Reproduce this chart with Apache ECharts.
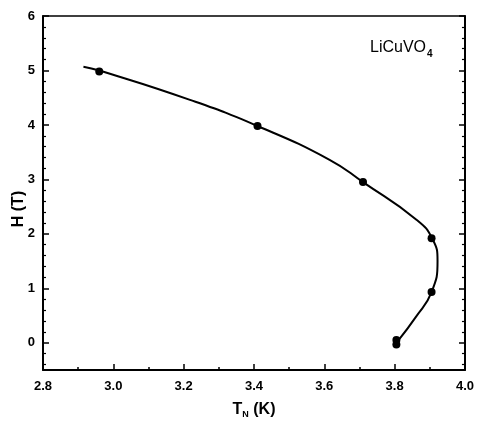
<!DOCTYPE html>
<html>
<head>
<meta charset="utf-8">
<script src="https://cdn.jsdelivr.net/npm/echarts@6/dist/echarts.min.js"></script>
<style>html,body{margin:0;padding:0;background:#fff}#c{width:477px;height:421px}</style>
</head>
<body>
<div id="c"></div>
<script>
// Tick values
const xTicks = [2.8, 3.0, 3.2, 3.4, 3.6, 3.8, 4.0];
const xMinor = [2.9, 3.1, 3.3, 3.5, 3.7, 3.9];
const yTicks = [0, 1, 2, 3, 4, 5, 6];
const yMinor = [-0.4, -0.2, 0.2, 0.4, 0.6, 0.8, 1.2, 1.4, 1.6, 1.8, 2.2, 2.4, 2.6, 2.8,
                3.2, 3.4, 3.6, 3.8, 4.2, 4.4, 4.6, 4.8, 5.2, 5.4, 5.6, 5.8];
// Guide curve
const curveT = [2.915, 2.96, 3.218, 3.41, 3.615, 3.71, 3.862, 3.908, 3.922, 3.905, 3.86, 3.81];
const curveH = [5.07, 5.0, 4.46, 3.98, 3.36, 2.95, 2.26, 1.9, 1.5, 0.93, 0.47, 0.04];
// Measured points
const pointT = [2.96, 3.41, 3.71, 3.905, 3.905, 3.805, 3.805];
const pointH = [4.98, 3.98, 2.95, 1.92, 0.93, 0.05, -0.03];

const FONT = 'Liberation Sans';
const black = '#000';
const chart = echarts.init(document.getElementById('c'), null, {renderer: 'canvas'});

function xAx(extra) {
  return Object.assign({
    type: 'value', min: 2.8, max: 4.0, position: 'bottom',
    splitLine: {show: false},
    axisLine: {show: false, onZero: false, lineStyle: {color: black, width: 2}},
    axisTick: {show: false},
    axisLabel: {show: false}
  }, extra);
}
function yAx(extra) {
  return Object.assign({
    type: 'value', min: -0.5, max: 6, position: 'left',
    splitLine: {show: false},
    axisLine: {show: false, onZero: false, lineStyle: {color: black, width: 2}},
    axisTick: {show: false},
    axisLabel: {show: false}
  }, extra);
}

chart.setOption({
  animation: false,
  backgroundColor: '#fff',
  textStyle: {fontFamily: FONT},
  grid: {left: 43, right: 11, top: 16, bottom: 51},
  xAxis: [
    xAx({
      axisLine: {show: true, onZero: false, lineStyle: {color: black, width: 2}},
      axisTick: {show: true, inside: true, length: 6, customValues: xTicks, lineStyle: {color: black, width: 1.5}},
      axisLabel: {show: true, customValues: xTicks, margin: 10, color: black, fontSize: 13, fontWeight: 'bold', fontFamily: FONT,
        formatter: v => Number(v).toFixed(1)}
    }),
    xAx({
      axisTick: {show: true, inside: true, length: 3, customValues: xMinor, lineStyle: {color: black, width: 1.5}}
    }),
    xAx({
      position: 'top',
      axisLine: {show: true, onZero: false, lineStyle: {color: black, width: 1.5}}
    })
  ],
  yAxis: [
    yAx({
      axisLine: {show: true, onZero: false, lineStyle: {color: black, width: 2}},
      axisTick: {show: true, inside: true, length: 6, customValues: yTicks, lineStyle: {color: black, width: 1.5}},
      axisLabel: {show: true, customValues: yTicks, margin: 8, color: black, fontSize: 13, fontWeight: 'bold', fontFamily: FONT}
    }),
    yAx({
      axisTick: {show: true, inside: true, length: 3, customValues: yMinor, lineStyle: {color: black, width: 1.2}}
    }),
    yAx({
      position: 'right',
      axisLine: {show: true, onZero: false, lineStyle: {color: black, width: 2}},
      axisTick: {show: true, inside: true, length: 6, customValues: yTicks, lineStyle: {color: black, width: 1.5}}
    }),
    yAx({
      position: 'right',
      axisTick: {show: true, inside: true, length: 3, customValues: yMinor, lineStyle: {color: black, width: 1.2}}
    })
  ],
  series: [
    {
      type: 'line', xAxisIndex: 0, yAxisIndex: 0,
      data: curveT.map((t, i) => [t, curveH[i]]),
      smooth: 0.5, showSymbol: false, symbol: 'none',
      lineStyle: {color: black, width: 2}
    },
    {
      type: 'scatter', xAxisIndex: 0, yAxisIndex: 0,
      data: pointT.map((t, i) => [t, pointH[i]]),
      symbol: 'circle', symbolSize: 8,
      itemStyle: {color: black, opacity: 1}
    }
  ],
  graphic: [
    {
      type: 'text', left: 370, top: 40,
      style: {
        text: '{m|LiCuVO}{s|4}', fill: black,
        rich: {
          m: {fontSize: 16, fontFamily: FONT, fill: black},
          s: {fontSize: 10, fontFamily: FONT, fill: black, fontWeight: 'bold', padding: [12, 0, 0, 1]}
        }
      }
    },
    {
      type: 'text', x: 254, y: 410,
      style: {
        text: '{m|T}{s|N}{m| (K)}', fill: black, align: 'center', verticalAlign: 'middle',
        rich: {
          m: {fontSize: 16, fontFamily: FONT, fill: black, fontWeight: 'bold'},
          s: {fontSize: 9, fontFamily: FONT, fill: black, fontWeight: 'bold', padding: [10, 0, 0, 0]}
        }
      }
    },
    {
      type: 'text', x: 19, y: 209, rotation: Math.PI / 2,
      style: {
        text: 'H (T)', fill: black, align: 'center', verticalAlign: 'middle',
        fontSize: 16, fontWeight: 'bold', fontFamily: FONT
      }
    }
  ]
});
</script>
</body>
</html>
